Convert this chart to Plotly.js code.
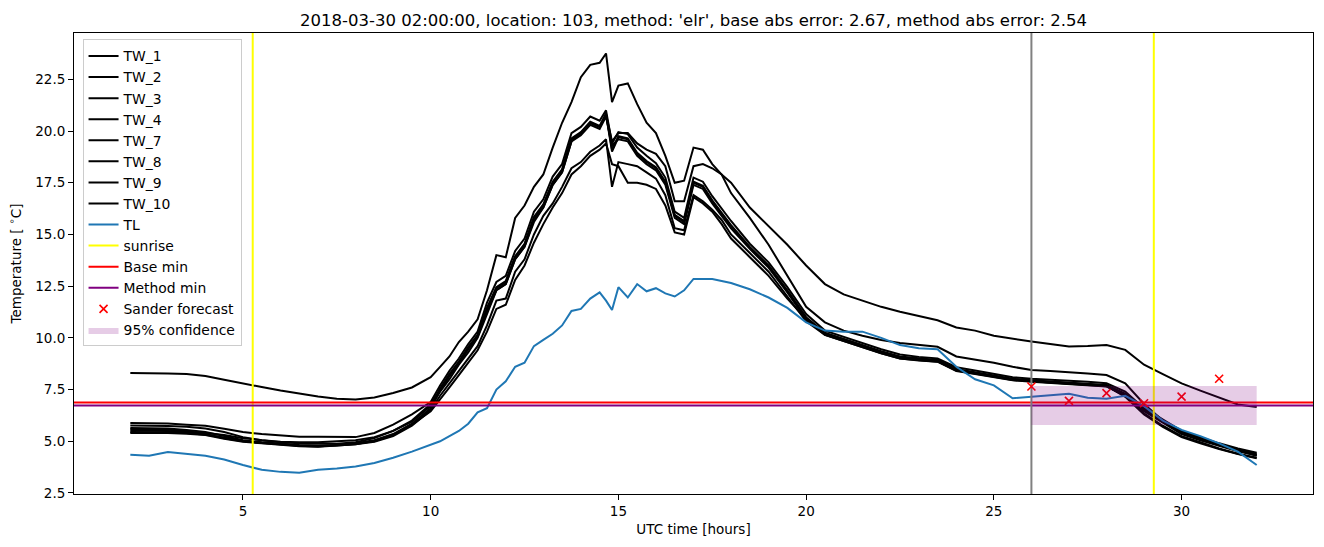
<!DOCTYPE html>
<html>
<head>
<meta charset="utf-8">
<script src="https://cdn.plot.ly/plotly-3.0.1.min.js"></script>
<style>html,body{margin:0;padding:0;background:#fff}#chart{width:1324px;height:547px}</style>
</head>
<body>
<div id="chart"></div>
<script>
// ---- data (hours UTC) ----
var hours = [2,2.5,3,3.5,4,4.5,5,5.5,6,6.5,7,7.5,8,8.5,9,9.5,10,
  10.25,10.5,10.75,11,11.25,11.5,11.75,12,12.25,12.5,12.75,13,13.25,13.5,13.75,14,14.25,14.5,
  14.67,14.83,
  15,15.25,15.5,15.75,16,16.25,16.5,16.75,17,17.25,17.5,17.75,18,
  18.5,19,19.5,20,20.5,21,21.5,22,22.5,23,23.5,24,24.5,25,25.5,26,26.5,27,27.5,28,28.5,29,29.5,30,30.5,31,31.5,32];

var tw1 = [8.3,8.3,8.28,8.25,8.15,7.97,7.78,7.62,7.45,7.3,7.16,7.05,7.02,7.12,7.33,7.6,8.1,
  8.6,9.1,9.8,10.3,10.9,12.3,14.0,13.9,15.8,16.4,17.3,17.9,19.2,20.4,21.4,22.6,23.2,23.3,
  23.75,21.4,
  22.2,22.3,21.3,20.4,19.9,18.8,17.5,17.6,19.2,19.1,18.4,17.9,17.0,
  15.8,14.5,13.0,11.5,10.75,10.35,10.1,9.9,9.75,9.65,9.57,9.1,8.95,8.8,8.6,8.45,8.4,8.35,8.28,8.2,7.8,6.8,6.0,5.5,5.15,4.85,4.55,4.3];

var tw2 = [5.52,5.52,5.5,5.45,5.4,5.3,5.15,5.05,4.98,4.95,4.95,5.0,5.05,5.2,5.5,5.95,6.7,
  7.4,8.0,8.7,9.3,10.0,11.2,12.3,12.6,13.8,14.4,15.6,16.3,17.4,18.0,19.5,19.9,20.4,20.2,
  20.8,19.5,
  19.9,19.9,19.4,19.1,18.9,18.3,16.6,16.6,18.3,18.4,18.2,17.9,17.5,
  16.3,15.4,14.5,13.5,12.6,12.1,11.8,11.5,11.26,11.05,10.85,10.5,10.35,10.1,9.95,9.82,9.7,9.58,9.6,9.65,9.42,8.7,8.25,7.8,7.45,7.1,6.78,6.66];

var tw3 = [5.88,5.88,5.86,5.8,5.75,5.6,5.45,5.35,5.28,5.22,5.22,5.2,5.2,5.4,5.8,6.3,6.9,
  7.7,8.4,9.0,9.7,10.3,11.7,12.7,13.0,14.2,14.8,16.1,16.7,17.8,18.4,19.9,20.2,20.7,20.5,
  21.0,19.4,
  19.95,19.85,19.2,18.8,18.45,17.75,16.1,15.8,17.75,17.55,16.85,16.25,15.65,
  14.55,13.65,12.45,11.15,10.35,10.05,9.75,9.45,9.2,9.08,9.0,8.58,8.42,8.25,8.1,8.02,7.98,7.93,7.88,7.8,7.4,6.6,6.05,5.5,5.2,4.9,4.65,4.45];

var tw4 = [5.76,5.76,5.74,5.7,5.62,5.45,5.2,5.05,4.95,4.9,4.88,4.88,4.95,5.15,5.5,6.0,6.8,
  7.5,8.2,8.8,9.5,10.1,11.4,12.4,12.7,13.9,14.5,15.8,16.4,17.5,18.1,19.6,19.9,20.4,20.2,
  20.8,19.0,
  19.7,19.6,18.9,18.5,18.2,17.5,15.9,15.6,17.5,17.3,16.6,16.0,15.4,
  14.35,13.45,12.25,10.95,10.2,9.9,9.6,9.3,9.05,8.95,8.88,8.45,8.3,8.14,7.98,7.92,7.87,7.82,7.77,7.7,7.25,6.5,5.95,5.4,5.1,4.8,4.55,4.35];

var tw7 = [5.64,5.64,5.62,5.55,5.45,5.25,5.05,4.95,4.88,4.82,4.8,4.82,4.9,5.05,5.35,5.85,6.6,
  7.55,8.25,8.85,9.55,10.15,11.45,12.45,12.75,13.95,14.55,15.85,16.45,17.55,18.15,19.65,19.95,20.45,20.25,
  20.85,19.1,
  19.75,19.65,18.95,18.55,18.25,17.55,15.95,15.65,17.55,17.35,16.65,16.05,15.45,
  14.4,13.5,12.3,11.0,10.25,9.95,9.65,9.35,9.1,9.0,8.93,8.5,8.35,8.18,8.02,7.95,7.9,7.85,7.8,7.72,7.3,6.55,6.0,5.45,5.15,4.85,4.6,4.4];

var tw8 = [5.58,5.58,5.56,5.5,5.35,5.15,5.0,4.92,4.85,4.78,4.75,4.8,4.88,5.0,5.3,5.8,6.55,
  7.45,8.15,8.75,9.45,10.05,11.3,12.3,12.6,13.8,14.4,15.7,16.3,17.4,18.0,19.5,19.8,20.3,20.1,
  20.7,19.3,
  19.6,19.5,18.8,18.4,18.1,17.4,15.8,15.5,17.4,17.2,16.5,15.9,15.3,
  14.3,13.4,12.2,10.9,10.15,9.85,9.55,9.25,9.0,8.92,8.85,8.42,8.28,8.12,7.96,7.9,7.84,7.8,7.75,7.66,7.2,6.45,5.9,5.35,5.05,4.78,4.52,4.32];

var tw9 = [5.4,5.4,5.4,5.36,5.3,5.12,4.98,4.9,4.82,4.76,4.74,4.78,4.85,4.98,5.25,5.75,6.5,
  7.2,7.8,8.4,9.0,9.6,10.6,11.8,11.9,13.2,13.8,15.0,15.9,16.5,17.3,18.2,18.5,19.0,19.3,
  19.6,17.3,
  18.5,18.4,18.3,18.0,17.7,16.9,15.3,15.2,16.9,16.6,16.2,15.7,15.0,
  14.1,13.2,12.0,10.8,10.15,9.85,9.55,9.25,9.0,8.9,8.85,8.4,8.25,8.1,7.95,7.88,7.82,7.78,7.72,7.65,7.2,6.35,5.75,5.25,4.95,4.65,4.4,4.2];

var tw10 = [5.45,5.45,5.44,5.4,5.32,5.18,5.02,4.93,4.86,4.8,4.78,4.8,4.86,5.02,5.3,5.8,6.45,
  7.0,7.6,8.2,8.8,9.4,10.3,11.4,11.6,12.8,13.5,14.6,15.5,16.3,17.0,17.9,18.3,18.8,19.1,
  19.4,18.4,
  18.3,17.5,17.5,17.4,17.2,16.4,15.1,15.0,16.8,16.5,16.1,15.5,14.8,
  13.9,13.0,11.9,10.9,10.2,9.9,9.6,9.3,9.05,8.95,8.9,8.45,8.3,8.15,8.0,7.9,7.85,7.8,7.75,7.68,7.15,6.3,5.7,5.2,4.9,4.62,4.38,4.18];

var tl = [4.35,4.3,4.48,4.38,4.3,4.12,3.85,3.62,3.52,3.48,3.62,3.68,3.78,3.95,4.2,4.5,4.85,
  5.0,5.25,5.5,5.85,6.4,6.6,7.5,7.9,8.6,8.8,9.6,9.9,10.2,10.6,11.3,11.4,11.9,12.2,
  11.8,11.35,
  12.45,11.95,12.6,12.25,12.4,12.15,12.0,12.3,12.85,12.85,12.85,12.75,12.65,
  12.35,11.95,11.45,10.75,10.35,10.3,10.3,10.0,9.65,9.5,9.45,8.6,8.0,7.7,7.08,7.15,7.2,7.3,7.1,7.05,7.2,6.7,6.0,5.55,5.25,4.9,4.5,3.85];

var seriesNames = ["TW_1","TW_2","TW_3","TW_4","TW_7","TW_8","TW_9","TW_10"];
var sunriseHours = [5.26, 29.26];
var forecastStart = 26;
var baseMin = 6.87;
var methodMin = 6.73;
var sanderHours = [26, 27, 28, 29, 30, 31];
var sanderTemps = [7.65, 6.95, 7.33, 6.84, 7.16, 8.02];
var confStart = 26, confEnd = 32;
var confLow = 5.79, confHigh = 7.67;

var titleText = "2018-03-30 02:00:00, location: 103, method: 'elr', base abs error: 2.67, method abs error: 2.54";

// ---- chart ----
var xRange = [0.5, 33.5];
var yRange = [2.45, 24.74];
var F = "DejaVu Sans, sans-serif";

var twData = [tw1, tw2, tw3, tw4, tw7, tw8, tw9, tw10];
var traces = [];
twData.forEach(function (vals, i) {
  traces.push({x: hours, y: vals, name: seriesNames[i], type: "scatter", mode: "lines",
    line: {color: "black", width: 2}});
});
traces.push({x: hours, y: tl, name: "TL", type: "scatter", mode: "lines",
  line: {color: "#1f77b4", width: 2}});
sunriseHours.forEach(function (h, i) {
  traces.push({x: [h, h], y: yRange, name: "sunrise", type: "scatter", mode: "lines",
    line: {color: "#ffff00", width: 2}, showlegend: i === 0, legendgroup: "sunrise"});
});
traces.push({x: xRange, y: [baseMin, baseMin], name: "Base min", type: "scatter", mode: "lines",
  line: {color: "red", width: 2}});
traces.push({x: xRange, y: [methodMin, methodMin], name: "Method min", type: "scatter", mode: "lines",
  line: {color: "purple", width: 2}});
traces.push({x: [forecastStart, forecastStart], y: yRange, type: "scatter", mode: "lines",
  line: {color: "gray", width: 2}, showlegend: false, hoverinfo: "skip"});
traces.push({x: sanderHours, y: sanderTemps, name: "Sander forecast", type: "scatter", mode: "markers",
  marker: {symbol: "x-thin", size: 8, line: {color: "red", width: 1.6}, color: "red"}});
traces.push({x: [confStart, confEnd, confEnd, confStart, confStart],
  y: [confLow, confLow, confHigh, confHigh, confLow], name: "95% confidence",
  type: "scatter", mode: "lines", fill: "toself", fillcolor: "rgba(128,0,128,0.2)",
  line: {width: 0, color: "rgba(128,0,128,0)"}});

var axisCommon = {showgrid: false, zeroline: false, showline: true, mirror: true,
  linecolor: "black", linewidth: 1, ticks: "outside", ticklen: 5, tickwidth: 1, tickcolor: "black",
  tickfont: {family: F, size: 13.5, color: "black"}};

var layout = {
  width: 1324, height: 547,
  margin: {l: 73.5, r: 10.5, t: 32.7, b: 53},
  paper_bgcolor: "white", plot_bgcolor: "white",
  title: {text: titleText, font: {family: F, size: 16.5, color: "black"}, x: 0.5, xref: "paper",
    xanchor: "center", y: 1, yref: "paper", yanchor: "bottom", pad: {b: 7}},
  xaxis: Object.assign({}, axisCommon, {range: xRange, tickvals: [5, 10, 15, 20, 25, 30],
    title: {text: "UTC time [hours]", font: {family: F, size: 13.5, color: "black"}, standoff: 6}}),
  yaxis: Object.assign({}, axisCommon, {range: yRange,
    tickvals: [2.5, 5, 7.5, 10, 12.5, 15, 17.5, 20, 22.5], tickformat: ".1f",
    title: {text: "Temperature [ <sup>∘</sup>C]", font: {family: F, size: 13.5, color: "black"}, standoff: 10}}),
  showlegend: true,
  legend: {x: 0.0069, y: 0.986, xanchor: "left", yanchor: "top",
    bgcolor: "rgba(255,255,255,0.8)", bordercolor: "#cccccc", borderwidth: 1,
    font: {family: F, size: 13.9, color: "black"}, tracegroupgap: 0, itemwidth: 30}
};

Plotly.newPlot("chart", traces, layout, {displayModeBar: false, staticPlot: true});
</script>
</body>
</html>
